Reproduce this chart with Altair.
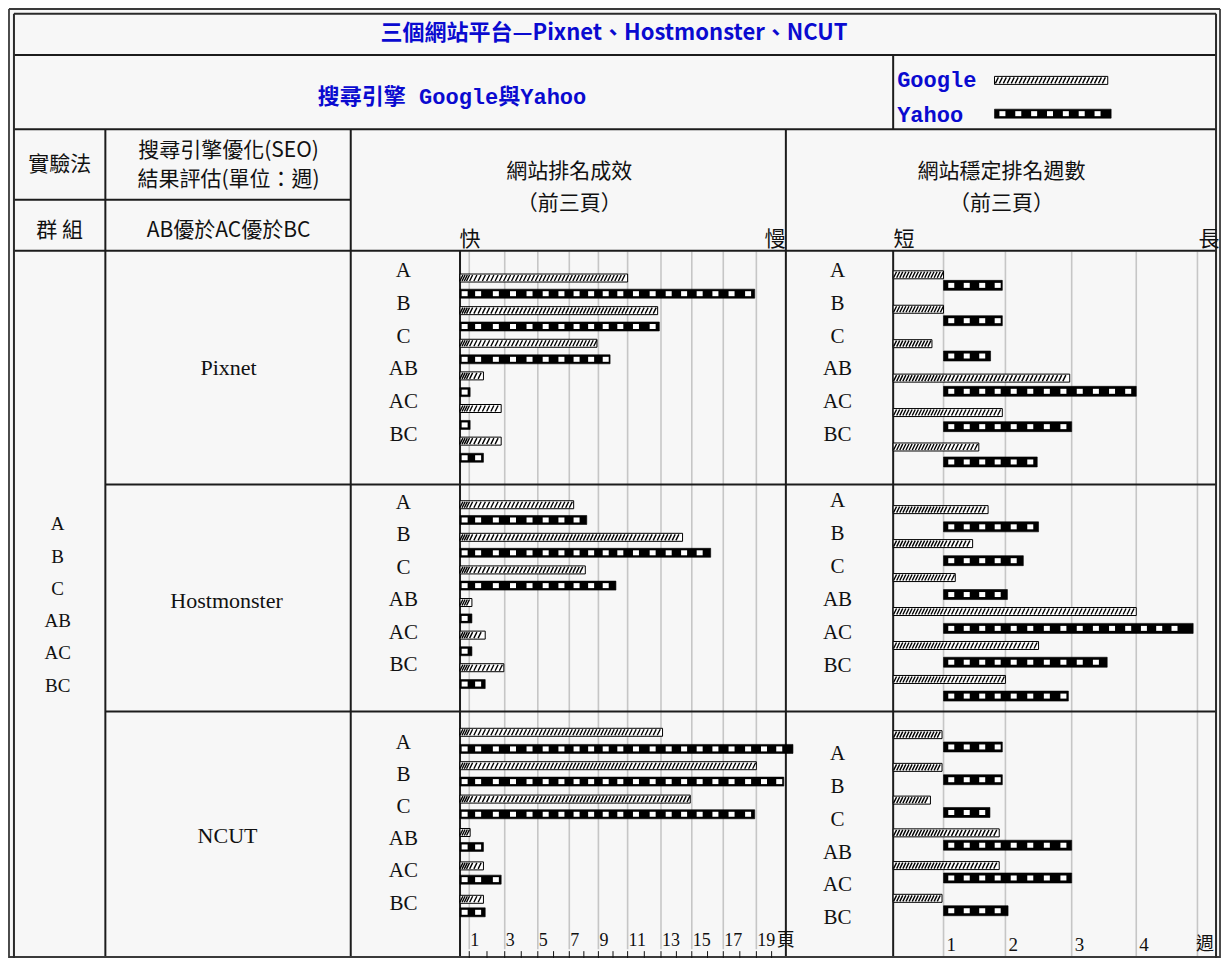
import altair as alt
import pandas as pd

# ---------------- data ----------------
groups = ["A", "B", "C", "AB", "AC", "BC"]
platforms = ["Pixnet", "Hostmonster", "NCUT"]
engines = ["Google", "Yahoo"]

# 網站排名成效 (pages)
rank_google = {
    "Pixnet": [11.0, 12.8, 8.9, 1.8, 2.8, 2.8],
    "Hostmonster": [7.3, 14.4, 8.1, 1.15, 1.9, 2.95],
    "NCUT": [13.1, 19.0, 14.9, 1.05, 1.8, 1.8],
}
rank_yahoo = {
    "Pixnet": [18.9, 12.9, 9.8, 1.05, 1.05, 1.8],
    "Hostmonster": [8.2, 16.2, 10.2, 1.15, 1.15, 1.9],
    "NCUT": [21.4, 20.8, 18.9, 1.8, 2.8, 1.9],
}
# 網站穩定排名週數 (weeks)
weeks_google = {
    "Pixnet": [1.0, 1.0, 0.77, 2.97, 1.95, 1.57],
    "Hostmonster": [1.72, 1.47, 1.19, 4.0, 2.5, 2.0],
    "NCUT": [0.97, 0.97, 0.74, 1.9, 1.9, 0.97],
}
weeks_yahoo = {
    "Pixnet": [1.95, 1.95, 1.76, 4.0, 3.0, 2.48],
    "Hostmonster": [2.5, 2.27, 2.03, 4.93, 3.55, 2.95],
    "NCUT": [1.95, 1.95, 1.75, 3.0, 3.0, 2.04],
}
rank_start = {"Google": 0, "Yahoo": 0}
weeks_start = {"Google": 0, "Yahoo": 1}

rank_grid = [1, 3, 5, 7, 9, 11, 13, 15, 17, 19]
rank_tick_labels = [1, 3, 5, 7, 9, 11, 13, 15, 17, 19]
rank_ruler = list(range(1, 21))
week_grid = [1, 2, 3, 4, 5]
week_tick_labels = [1, 2, 3, 4]

# ---------------- layout (reference pixel coordinates, mapped into the chart) ----------------
W, H = 1213, 950
X0, X1 = 5, 1226
Y0, Y1 = 4, 975
SX = W / (X1 - X0)
SY = H / (Y1 - Y0)


def px(v):
    return (v - X0) * SX


def py(v):
    return (v - Y0) * SY


RANK_DOMAIN = [0, 1, 3, 5, 7, 9, 11, 13, 15, 17, 19, 21]
RANK_RANGE = [460, 469.3, 505, 538.3, 570, 599.3, 628.7, 662.3, 693.3, 725, 758.3, 789]
WEEK_DOMAIN = [0, 1, 2, 3, 4, 5]
WEEK_RANGE = [896, 946.7, 1009, 1075.7, 1140.7, 1202.3]

rank_scale = alt.Scale(domain=RANK_DOMAIN, range=[px(v) for v in RANK_RANGE], zero=False, nice=False)
week_scale = alt.Scale(domain=WEEK_DOMAIN, range=[px(v) for v in WEEK_RANGE], zero=False, nice=False)
legend_scale = alt.Scale(domain=[0, 1], range=[px(998), px(1112)], zero=False, nice=False)

# first / last row centre of each panel's bars
BAR_ROWS = {
    ("Pixnet", "rank", "Google"): (280, 446.7),
    ("Pixnet", "rank", "Yahoo"): (296, 463.7),
    ("Hostmonster", "rank", "Google"): (511.7, 678.3),
    ("Hostmonster", "rank", "Yahoo"): (527.3, 695),
    ("NCUT", "rank", "Google"): (744.3, 915),
    ("NCUT", "rank", "Yahoo"): (761.3, 928.3),
    ("Pixnet", "weeks", "Google"): (276.7, 452.7),
    ("Pixnet", "weeks", "Yahoo"): (287.5, 468),
    ("Hostmonster", "weeks", "Google"): (516.7, 690.3),
    ("Hostmonster", "weeks", "Yahoo"): (534.3, 707.3),
    ("NCUT", "weeks", "Google"): (746.7, 914),
    ("NCUT", "weeks", "Yahoo"): (759.3, 926.7),
}
LABEL_ROWS = {
    ("Pixnet", "rank"): (273.3, 440),
    ("Hostmonster", "rank"): (510, 675.7),
    ("NCUT", "rank"): (755, 919.3),
    ("Pixnet", "weeks"): (273.3, 440),
    ("Hostmonster", "weeks"): (508.3, 676.7),
    ("NCUT", "weeks"): (766.7, 934.3),
}
LABEL_X = {"rank": 403, "weeks": 840}

BLUE = "#0a0ad0"
GRID = "#c6c6c6"
LINE = "#1c1c1c"
CJK = "Noto Sans CJK TC"
SERIF = "Liberation Serif"


def band(domain, c0, c1):
    step = (c1 - c0) / (len(domain) - 1)
    return alt.Scale(domain=domain, range=[py(c0 - step / 2), py(c1 + step / 2)],
                     paddingInner=0, paddingOuter=0)


def google_layers(df, xs, ys, step, size=8):
    base = alt.Chart(df)
    bar = base.mark_bar(fill="white", stroke="black", strokeWidth=1, size=size).encode(
        x=alt.X("end:Q", scale=xs, axis=None), x2=alt.X2("start"),
        y=alt.Y("group:N", scale=ys, axis=None))
    hatch = base.transform_calculate(
        pos=f"sequence(datum.start + {0.6 * step}, datum.end - {0.4 * step}, {step})"
    ).transform_flatten(["pos"]).mark_point(
        shape="M-0.5,1L0.5,-1", filled=False, stroke="black", strokeWidth=1.4,
        opacity=1, size=(size - 2) ** 2).encode(
        x=alt.X("pos:Q", scale=xs, axis=None), y=alt.Y("group:N", scale=ys, axis=None))
    return [bar, hatch]


def yahoo_layers(df, xs, ys, step, size=10):
    base = alt.Chart(df)
    bar = base.mark_bar(fill="black", stroke="black", strokeWidth=0.6, size=size).encode(
        x=alt.X("end:Q", scale=xs, axis=None), x2=alt.X2("start"),
        y=alt.Y("group:N", scale=ys, axis=None))
    squares = base.transform_calculate(
        pos=f"sequence(datum.start + {0.5 * step}, datum.end - {0.25 * step}, {step})"
    ).transform_flatten(["pos"]).mark_point(
        shape="M-1.2,-1L1.2,-1L1.2,1L-1.2,1Z", filled=True, color="white",
        strokeWidth=0, opacity=1, size=25).encode(
        x=alt.X("pos:Q", scale=xs, axis=None), y=alt.Y("group:N", scale=ys, axis=None))
    return [bar, squares]


def rules(segs, color, width):
    df = pd.DataFrame([[px(a), py(b), px(c), py(d)] for a, b, c, d in segs],
                      columns=["x1", "y1", "x2", "y2"])
    return alt.Chart(df).mark_rule(color=color, strokeWidth=width).encode(
        x=alt.X("x1:Q", scale=None), y=alt.Y("y1:Q", scale=None),
        x2=alt.X2("x2"), y2=alt.Y2("y2"))


def texts(items, font, size, weight="normal", color="#111", align="center"):
    df = pd.DataFrame([[t, px(x), py(y)] for t, x, y in items], columns=["t", "x", "y"])
    return alt.Chart(df).mark_text(font=font, fontSize=size, fontWeight=weight, color=color,
                                   align=align, baseline="middle").encode(
        x=alt.X("x:Q", scale=None), y=alt.Y("y:Q", scale=None), text="t:N")


layers = []

# grid lines of the two panels
layers.append(alt.Chart(pd.DataFrame({"v": rank_grid})).mark_rule(color=GRID, strokeWidth=1.6).encode(
    x=alt.X("v:Q", scale=rank_scale, axis=None), y=alt.value(py(253)), y2=alt.value(py(966))))
layers.append(alt.Chart(pd.DataFrame({"v": week_grid})).mark_rule(color=GRID, strokeWidth=1.6).encode(
    x=alt.X("v:Q", scale=week_scale, axis=None), y=alt.value(py(253)), y2=alt.value(py(974))))

# table lines
layers.append(rules([
    (11, 52, 1221, 52), (11, 128, 1221, 128), (11, 200, 350, 200), (11, 252, 1221, 252),
    (103, 491, 1221, 491), (103, 723, 1221, 723),
    (896, 52, 896, 128), (103, 128, 103, 975), (350, 128, 350, 975), (788, 128, 788, 975),
    (460, 252, 460, 975), (896, 252, 896, 975),
], LINE, 2))
# double outer border
layers.append(rules([
    (6, 5, 1225, 5), (6, 5, 6, 975), (1225, 5, 1225, 975), (6, 974, 1225, 974),
], "#3a3a3a", 1.8))
layers.append(rules([
    (11, 10, 1221, 10), (11, 10, 11, 975), (1221, 10, 1221, 975),
], "#2a2a2a", 2))

# title and legend row
layers.append(texts([("三個網站平台—Pixnet、Hostmonster、NCUT", 615, 30)], CJK, 22, "bold", BLUE))
layers.append(texts([("搜尋引擎 Google與Yahoo", 452, 95)], f"Liberation Mono, {CJK}", 22, "bold", BLUE))
layers.append(texts([("Google", 900, 78), ("Yahoo", 900, 113)], "Liberation Mono", 22, "bold", BLUE, "left"))

# header texts
layers.append(texts([
    ("實驗法", 57, 164), ("群 組", 57, 232),
    ("搜尋引擎優化(SEO)", 227, 150), ("結果評估(單位：週)", 227, 180), ("AB優於AC優於BC", 227, 232),
    ("網站排名成效", 570, 172), ("（前三頁）", 570, 204),
    ("網站穩定排名週數", 1005, 172), ("（前三頁）", 1005, 204),
    ("快", 470, 241), ("慢", 777, 241), ("短", 907, 241), ("長", 1214, 241),
], CJK, 21))

# platform names
layers.append(texts([("Pixnet", 227, 372), ("Hostmonster", 225, 610), ("NCUT", 226, 850)], SERIF, 22))

# stacked group list in first column
layers.append(alt.Chart(pd.DataFrame({"group": groups})).mark_text(
    font=SERIF, fontSize=19, baseline="middle", color="#111").encode(
    x=alt.value(px(55)), y=alt.Y("group:N", scale=band(groups, 531.7, 696.7), axis=None),
    text="group:N"))

# panel group labels
for (plat, metric), (c0, c1) in LABEL_ROWS.items():
    layers.append(alt.Chart(pd.DataFrame({"group": groups})).mark_text(
        font=SERIF, fontSize=21, baseline="middle", color="#111").encode(
        x=alt.value(px(LABEL_X[metric])), y=alt.Y("group:N", scale=band(groups, c0, c1), axis=None),
        text="group:N"))

# bars
for plat in platforms:
    for metric, gvals, yvals, starts, xs, gstep, ystep, ysize in [
        ("rank", rank_google, rank_yahoo, rank_start, rank_scale, 0.24, 1.0, 9),
        ("weeks", weeks_google, weeks_yahoo, weeks_start, week_scale, 0.062, 0.25, 10),
    ]:
        gdf = pd.DataFrame({"group": groups, "start": starts["Google"], "end": gvals[plat]})
        ydf = pd.DataFrame({"group": groups, "start": starts["Yahoo"], "end": yvals[plat]})
        layers += google_layers(gdf, xs, band(groups, *BAR_ROWS[(plat, metric, "Google")]), gstep, 8)
        layers += yahoo_layers(ydf, xs, band(groups, *BAR_ROWS[(plat, metric, "Yahoo")]), ystep, ysize)

# legend swatches
leg_g = pd.DataFrame({"group": ["Google"], "start": [0], "end": [1.0]})
leg_y = pd.DataFrame({"group": ["Yahoo"], "start": [0], "end": [1.03]})
layers += google_layers(leg_g, legend_scale, band(engines, 78, 112), 0.035, 8)
layers += yahoo_layers(leg_y, legend_scale, band(engines, 78, 112), 0.14, 9)

# bottom tick labels
layers.append(alt.Chart(pd.DataFrame({"v": rank_tick_labels})).mark_text(
    font=SERIF, fontSize=18, align="left", baseline="middle", dx=1, color="#111").encode(
    x=alt.X("v:Q", scale=rank_scale, axis=None), y=alt.value(py(958)), text="v:N"))
layers.append(alt.Chart(pd.DataFrame({"v": week_tick_labels})).mark_text(
    font=SERIF, fontSize=19, align="left", baseline="middle", dx=3, color="#111").encode(
    x=alt.X("v:Q", scale=week_scale, axis=None), y=alt.value(py(962)), text="v:N"))
layers.append(alt.Chart(pd.DataFrame({"v": rank_ruler})).mark_rule(color="#111", strokeWidth=1).encode(
    x=alt.X("v:Q", scale=rank_scale, axis=None), y=alt.value(py(968)), y2=alt.value(py(975))))
layers.append(texts([("頁", 788, 958), ("週", 1210, 962)], CJK, 18))

chart = alt.layer(*layers).resolve_scale(x="independent", y="independent").properties(
    width=W, height=H, background="#f7f7f7", padding=0,
    autosize=alt.AutoSizeParams(type="none"),
).configure_view(stroke=None)

chart.save("out.html", embed_options={"renderer": "svg", "actions": False})
